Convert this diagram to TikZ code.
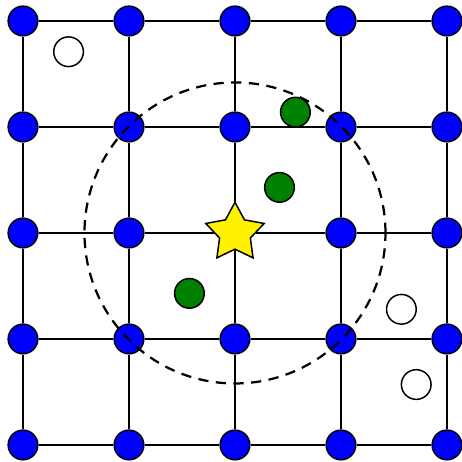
\documentclass[tikz,border=0pt]{standalone}
\usepackage{tikz}
\usetikzlibrary{shapes.geometric, backgrounds}

\tikzset{
  dot/.style={circle, draw=black, line width=0.8pt, minimum size=0.56cm, inner sep=0pt},
  site/.style={dot, fill=blue},
  inside/.style={dot, fill=green!50!black},
  outside/.style={dot, fill=white},
}

\begin{document}
\begin{tikzpicture}[x=2cm, y=2cm]
  \useasboundingbox (-0.217,-0.160) rectangle (4.142,4.198);

  % ── Grid sites ──
  \foreach \i in {0,...,4} {
    \foreach \j in {0,...,4} {
      \node[site] (s-\i-\j) at (\i,\j) {};
    }
  }

  % ── Grid lines ──
  \begin{scope}[on background layer]
    \foreach \i [count=\k] in {0,...,3} {
      \foreach \j in {0,...,4} {
        \draw[line width=1pt] (s-\i-\j) -- (s-\k-\j);
        \draw[line width=1pt] (s-\j-\i) -- (s-\j-\k);
      }
    }
  \end{scope}

  % ── Query point ──
  \node[star, star points=5, star point ratio=1.9, minimum size=1.16cm, inner sep=0pt,
        draw=black, line width=0.8pt, fill=yellow] (query) at (2,2) {};

  % ── Samples ──
  \node[inside] (g1) at (2.57,3.14) {};
  \node[inside] (g2) at (2.42,2.43) {};
  \node[inside] (g3) at (1.57,1.43) {};
  \node[outside] (w1) at (0.43,3.71) {};
  \node[outside] (w2) at (3.57,1.28) {};
  \node[outside] (w3) at (3.71,0.57) {};

  % ── Search radius ──
  \draw[dashed, dash pattern=on 5.5pt off 4pt, line width=1.2pt] (query.center) circle[radius=1.42];
\end{tikzpicture}
\end{document}
